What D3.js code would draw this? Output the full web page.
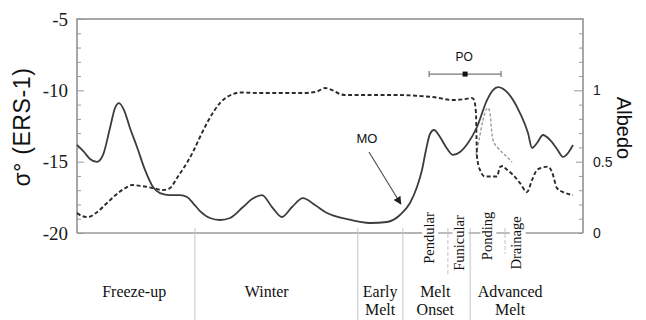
<!DOCTYPE html>
<html><head><meta charset="utf-8">
<script src="https://cdn.jsdelivr.net/npm/d3@7"></script>
<style>body{margin:0;background:#fff}svg{display:block}</style>
</head><body><svg id="c" width="646" height="320"></svg>
<script>
// ---- data (t = position through the season, 0..100) ----
const sigmaT = [0,1.38,2.57,3.95,5.14,6.52,7.51,8.30,9.29,10.47,11.86,13.44,15.02,16.40,18.38,20.36,21.74,22.92,24.31,26.28,28.26,30.24,32.81,34.58,36.56,38.54,40.51,42.49,44.66,47.04,49.41,53.36,57.91,61.26,63.83,65.81,67.19,68.18,68.97,69.76,70.55,71.74,72.92,74.31,75.69,77.27,79.05,81.03,82.21,83.20,85.18,87.55,89.13,89.92,90.91,92.09,93.48,94.86,96.05,97.04,98.02];
const sigmaV = [-13.83,-14.32,-14.81,-15.02,-14.53,-12.64,-11.24,-10.89,-11.38,-12.64,-13.97,-15.58,-16.78,-17.20,-17.34,-17.34,-17.48,-17.90,-18.46,-18.95,-19.09,-18.95,-18.18,-17.62,-17.34,-18.18,-18.88,-18.18,-17.55,-18.04,-18.60,-19.02,-19.30,-19.23,-18.74,-17.90,-16.78,-15.58,-14.18,-13.06,-12.78,-13.27,-13.97,-14.53,-14.32,-13.69,-12.57,-10.68,-9.98,-9.77,-10.19,-11.59,-12.99,-14.04,-13.69,-13.13,-13.48,-14.11,-14.67,-14.39,-13.83];
const albedoT = [0,0.99,2.17,3.75,5.93,8.10,9.88,10.87,12.85,15.02,16.98,18.38,19.76,21.34,22.92,24.31,25.69,27.08,28.26,29.64,30.83,32.21,36.17,40.12,44.07,47.04,48.02,49.01,50.40,51.98,52.96,57.91,63.83,67.79,70.36,74.31,76.68,78.06,78.46,78.85,78.95,79.05,79.64,80.63,83.00,83.60,84.19,84.58,86.17,87.55,88.93,89.92,90.91,91.70,93.08,93.87,94.86,96.05,98.02];
const albedoV = [0.140,0.119,0.112,0.140,0.210,0.280,0.322,0.336,0.329,0.315,0.301,0.315,0.386,0.470,0.568,0.673,0.771,0.855,0.911,0.953,0.974,0.985,0.981,0.981,0.981,0.988,1.002,1.016,1.002,0.974,0.967,0.967,0.967,0.960,0.953,0.932,0.939,0.946,0.932,0.841,0.673,0.533,0.442,0.396,0.396,0.463,0.470,0.456,0.407,0.350,0.287,0.371,0.442,0.456,0.465,0.428,0.315,0.287,0.266];
const pondT = [78.85,79.45,80.24,80.83,81.23,81.62,81.92,82.21,83.20,84.58,85.97];
const pondV = [0.547,0.652,0.792,0.862,0.876,0.841,0.722,0.652,0.596,0.547,0.498];
const leftTicks = [-5,-10,-15,-20];
const rightTicks = [0,0.5,1];
const phaseNames = [["Freeze-up"],["Winter"],["Early","Melt"],["Melt","Onset"],["Advanced","Melt"]];
const phaseLabelT = [11.3,37.5,59.9,70.8,85.6];
const phaseBounds = [23.3,55.5,64.4,77.7];
const subNames = ["Pendular","Funicular","Ponding","Drainage"];
const subLabelT = [69.6,75.6,81.1,86.9];
const subBounds = [73.3,84.6];
const poRange = [69.6,76.7,83.8];   // low, centre, high
const poAlbedo = 1.114;
const moFrom = [57.7,-14.32], moTo = [64.0,-17.97];

// ---- scales ----
const svg = d3.select("#c");
const L = 77, R = 583, T = 19, B = 233;
const x = d3.scaleLinear().domain([0,100]).range([L,R]);
const yS = d3.scaleLinear().domain([-20,-5]).range([B,T]);
const yA = d3.scaleLinear().domain([0,1.5]).range([B,T]);

// ---- frame ----
const frame = svg.append("g").attr("stroke","#8a8a8a").attr("stroke-width",1.5).attr("fill","none");
frame.append("path").attr("d",`M${L},${B}V${T}H${R}V${B}`);

// bottom axis line, broken where sub-phase labels sit
const gaps = subLabelT.map(t=>[x(t)-7,x(t)+9]).sort((a,b)=>a[0]-b[0]);
let cur = L; const segs=[];
gaps.forEach(g=>{segs.push([cur,g[0]]);cur=g[1];});
segs.push([cur,R]);
svg.append("g").selectAll("line").data(segs).join("line")
  .attr("x1",d=>d[0]).attr("x2",d=>d[1]).attr("y1",B).attr("y2",B)
  .attr("stroke","#9a9a9a").attr("stroke-width",1.3);

// left axis ticks
const lax = d3.axisRight(yS).tickValues(d3.range(-20,-4,1)).tickSize(4).tickFormat("");
const lg = svg.append("g").attr("transform",`translate(${L},0)`).call(lax);
lg.select(".domain").remove();
lg.selectAll(".tick line").attr("stroke","#999").attr("x2",d=>(d%5===0)?7:4);
svg.append("g").selectAll("text").data(leftTicks).join("text")
  .attr("x",68).attr("y",d=>yS(d)).attr("dy","0.35em").attr("text-anchor","end")
  .attr("font-family","Liberation Serif").attr("font-size",19).attr("fill","#1a1a1a").text(d=>d);

// right axis ticks
const rax = d3.axisLeft(yA).tickValues(d3.range(0,15).map(i=>i/10)).tickSize(4).tickFormat("");
const rg = svg.append("g").attr("transform",`translate(${R},0)`).call(rax);
rg.select(".domain").remove();
rg.selectAll(".tick line").attr("stroke","#999").attr("x2",d=>(Math.abs(d-1)<1e-6)?-9:(Math.abs(d-0.5)<1e-6?-7:-4));
svg.append("g").selectAll("text").data(rightTicks).join("text")
  .attr("x",593).attr("y",d=>yA(d)).attr("dy","0.35em").attr("text-anchor","start")
  .attr("font-family","Liberation Sans").attr("font-size",14).attr("fill","#1a1a1a").text(d=>d);

// axis titles
svg.append("text").attr("transform","translate(30,127) rotate(-90)").attr("text-anchor","middle")
  .attr("font-family","Liberation Sans").attr("font-size",23).attr("fill","#111")
  .attr("letter-spacing",0.6).text("σ° (ERS-1)");
svg.append("text").attr("transform","translate(617,128) rotate(90)").attr("text-anchor","middle")
  .attr("font-family","Liberation Sans").attr("font-size",20).attr("fill","#111").text("Albedo");

// phase dividers
svg.append("g").selectAll("line").data(phaseBounds).join("line")
  .attr("x1",d=>x(d)).attr("x2",d=>x(d)).attr("y1",228).attr("y2",320)
  .attr("stroke","#c4c4c4").attr("stroke-width",1);
svg.append("g").selectAll("line").data(subBounds).join("line")
  .attr("x1",d=>x(d)).attr("x2",d=>x(d)).attr("y1",228).attr("y2",(d,i)=>i===0?275:254)
  .attr("stroke","#c4c4c4").attr("stroke-width",1).attr("stroke-dasharray","4,2");

// phase labels
const pl = svg.append("g").attr("font-family","Liberation Serif").attr("font-size",16).attr("fill","#111").attr("text-anchor","middle");
phaseNames.forEach((lines,i)=>{
  lines.forEach((s,j)=>pl.append("text").attr("x",x(phaseLabelT[i])).attr("y",297+j*18).text(s));
});
// sub-phase labels (rotated)
svg.append("g").selectAll("text").data(subNames).join("text")
  .attr("transform",(d,i)=>`translate(${x(subLabelT[i])+4.5},${[238,243,236,243][i]}) rotate(-90)`)
  .attr("text-anchor","middle").attr("font-family","Liberation Serif").attr("font-size",14.5).attr("fill","#111")
  .text(d=>d);

// ---- series ----
const lineS = d3.line().x(d=>x(d[0])).y(d=>yS(d[1])).curve(d3.curveMonotoneX);
const lineA = d3.line().x(d=>x(d[0])).y(d=>yA(d[1])).curve(d3.curveMonotoneX);
svg.append("path").datum(pondT.map((t,i)=>[t,pondV[i]])).attr("d",lineA)
  .attr("fill","none").attr("stroke","#9a9a9a").attr("stroke-width",1.4).attr("stroke-dasharray","3,2");
svg.append("path").datum(albedoT.map((t,i)=>[t,albedoV[i]])).attr("d",lineA)
  .attr("fill","none").attr("stroke","#2a2a2a").attr("stroke-width",1.9).attr("stroke-dasharray","4,2.5");
svg.append("path").datum(sigmaT.map((t,i)=>[t,sigmaV[i]])).attr("d",lineS)
  .attr("fill","none").attr("stroke","#3c3c3c").attr("stroke-width",1.8);

// ---- PO annotation ----
const py = yA(poAlbedo);
const po = svg.append("g").attr("stroke","#777").attr("stroke-width",1.2);
po.append("line").attr("x1",x(poRange[0])).attr("x2",x(poRange[2])).attr("y1",py).attr("y2",py);
[poRange[0],poRange[2]].forEach(t=>po.append("line").attr("x1",x(t)).attr("x2",x(t)).attr("y1",py-3).attr("y2",py+3));
svg.append("rect").attr("x",x(poRange[1])-2.5).attr("y",py-2.5).attr("width",5).attr("height",5).attr("fill","#111");
svg.append("text").attr("x",x(poRange[1])-1).attr("y",py-13).attr("text-anchor","middle")
  .attr("font-family","Liberation Sans").attr("font-size",12).attr("fill","#111").text("PO");

// ---- MO annotation ----
svg.append("defs").append("marker").attr("id","ah").attr("viewBox","0 0 10 10").attr("refX",9).attr("refY",5)
  .attr("markerWidth",8).attr("markerHeight",8).attr("orient","auto-start-reverse").attr("markerUnits","userSpaceOnUse")
  .append("path").attr("d","M0,0L10,5L0,10Z").attr("fill","#222");
svg.append("line").attr("x1",x(moFrom[0])).attr("y1",yS(moFrom[1])).attr("x2",x(moTo[0])).attr("y2",yS(moTo[1]))
  .attr("stroke","#555").attr("stroke-width",1.2).attr("marker-end","url(#ah)");
svg.append("text").attr("x",x(moFrom[0])-2).attr("y",143).attr("text-anchor","middle")
  .attr("font-family","Liberation Sans").attr("font-size",13).attr("fill","#111").text("MO");
</script></body></html>
